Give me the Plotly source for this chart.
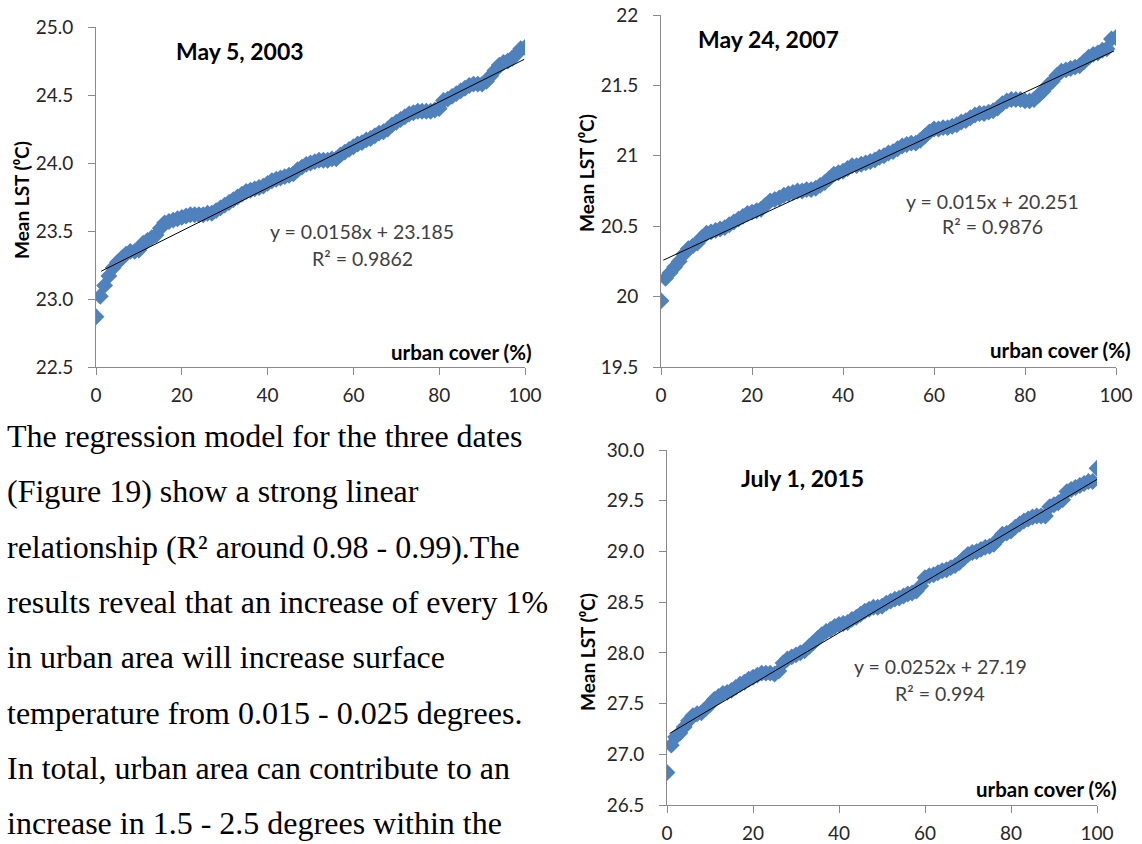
import plotly.graph_objects as go

# ---------------- data ----------------
urban_cover = list(range(0, 101))

lst_2003 = [22.87, 23.02, 23.10, 23.17, 23.23, 23.27, 23.30, 23.33, 23.35, 23.35,
            23.36, 23.41, 23.43, 23.45, 23.47, 23.52, 23.56, 23.57, 23.58, 23.59,
            23.60, 23.61, 23.62, 23.62, 23.62, 23.62, 23.63, 23.63, 23.65, 23.67,
            23.69, 23.71, 23.73, 23.75, 23.77, 23.79, 23.80, 23.81, 23.82, 23.83,
            23.85, 23.87, 23.88, 23.89, 23.90, 23.91, 23.92, 23.95, 23.97, 23.99,
            24.00, 24.01, 24.02, 24.02, 24.02, 24.03, 24.03, 24.06, 24.08, 24.10,
            24.12, 24.14, 24.15, 24.17, 24.18, 24.20, 24.22, 24.23, 24.25, 24.28,
            24.30, 24.32, 24.34, 24.36, 24.37, 24.38, 24.38, 24.38, 24.38, 24.39,
            24.40, 24.46, 24.47, 24.49, 24.51, 24.53, 24.55, 24.57, 24.58, 24.58,
            24.58, 24.60, 24.64, 24.68, 24.72, 24.74, 24.75, 24.77, 24.80, 24.84,
            24.85]

lst_2007 = [19.97, 20.13, 20.17, 20.21, 20.25, 20.30, 20.34, 20.36, 20.38, 20.42,
            20.45, 20.46, 20.47, 20.48, 20.49, 20.51, 20.53, 20.55, 20.57, 20.59,
            20.60, 20.61, 20.62, 20.65, 20.68, 20.69, 20.70, 20.72, 20.73, 20.74,
            20.75, 20.75, 20.76, 20.76, 20.77, 20.79, 20.81, 20.84, 20.87, 20.88,
            20.89, 20.91, 20.93, 20.93, 20.94, 20.95, 20.96, 20.97, 20.99, 21.00,
            21.02, 21.03, 21.05, 21.07, 21.08, 21.09, 21.09, 21.11, 21.14, 21.17,
            21.19, 21.19, 21.20, 21.20, 21.21, 21.22, 21.24, 21.25, 21.27, 21.29,
            21.30, 21.30, 21.31, 21.32, 21.34, 21.37, 21.39, 21.40, 21.40, 21.40,
            21.39, 21.39, 21.40, 21.43, 21.46, 21.50, 21.53, 21.57, 21.60, 21.61,
            21.62, 21.63, 21.64, 21.67, 21.70, 21.72, 21.73, 21.75, 21.76, 21.83,
            21.84]

lst_2015 = [26.82, 27.09, 27.17, 27.21, 27.27, 27.33, 27.38, 27.40, 27.41, 27.45,
            27.49, 27.54, 27.57, 27.60, 27.61, 27.63, 27.66, 27.69, 27.71, 27.74,
            27.76, 27.78, 27.80, 27.80, 27.80, 27.79, 27.82, 27.90, 27.94, 27.96,
            27.98, 28.00, 28.02, 28.06, 28.10, 28.14, 28.18, 28.21, 28.23, 28.26,
            28.28, 28.29, 28.30, 28.33, 28.35, 28.38, 28.41, 28.43, 28.45, 28.45,
            28.46, 28.49, 28.51, 28.53, 28.54, 28.56, 28.58, 28.59, 28.61, 28.66,
            28.74, 28.76, 28.77, 28.79, 28.81, 28.82, 28.84, 28.86, 28.89, 28.93,
            28.97, 28.99, 29.00, 29.02, 29.04, 29.05, 29.07, 29.12, 29.17, 29.18,
            29.20, 29.24, 29.27, 29.30, 29.32, 29.34, 29.35, 29.35, 29.35, 29.44,
            29.46, 29.48, 29.51, 29.59, 29.61, 29.63, 29.65, 29.67, 29.69, 29.69,
            29.82]

titles = ["May 5, 2003", "May 24, 2007", "July 1, 2015"]
slopes = [0.0158, 0.015, 0.0252]
intercepts = [23.185, 20.251, 27.19]
r_squared = ["0.9862", "0.9876", "0.994"]
equations = ["y = 0.0158x + 23.185", "y = 0.015x + 20.251", "y = 0.0252x + 27.19"]
trend_x_start = [1.2, 0.5, 0.6]
trend_x_end = [99.8, 99.6, 100]
y_ranges = [[22.5, 25.0], [19.5, 22.0], [26.5, 30.0]]
y_formats = [".1f", "", ".1f"]
x_ticks = [0, 20, 40, 60, 80, 100]
y_title = "Mean LST (\u2070C)"
x_title = "urban cover (%)"

paragraph_lines = [
    "The regression model for the three dates",
    "(Figure 19) show a strong linear",
    "relationship (R\u00b2 around 0.98 - 0.99).The",
    "results reveal that an increase of every 1%",
    "in urban area will increase surface",
    "temperature from 0.015 - 0.025 degrees.",
    "In total, urban area can contribute to an",
    "increase in 1.5 - 2.5 degrees within the",
]

# ---------------- layout helpers ----------------
W, H = 1142, 844
def fx(p):
    return p / W
def fy(p):
    return 1 - p / H

# plot boxes in pixels: (left, right, top, bottom)
boxes = [(96, 525, 27, 367), (661, 1116, 15, 367), (667, 1097, 450, 805)]
title_pos = [(240, 51), (768, 39), (802, 478)]
eq_pos = [(362, 231, 258), (992, 202, 227), (940, 666, 693)]
ytitle_pos = [(21, 200), (586, 173), (587, 652)]
xlabel_pos = [(534, 352), (1133, 350), (1119, 789)]

series = [lst_2003, lst_2007, lst_2015]

BLUE = "#4F81BD"
AXIS = "#898989"
TXT = "#262626"
FONT = "Lato"

fig = go.Figure()
annotations = []

for i in range(3):
    sfx = "" if i == 0 else str(i + 1)
    fig.add_trace(go.Scatter(
        x=urban_cover, y=series[i], mode="markers",
        marker=dict(symbol="diamond", size=13, color=BLUE, line=dict(width=0)),
        xaxis="x" + sfx, yaxis="y" + sfx, showlegend=False, hoverinfo="x+y"))
    tx = [trend_x_start[i], trend_x_end[i]]
    ty = [slopes[i] * v + intercepts[i] for v in tx]
    fig.add_trace(go.Scatter(
        x=tx, y=ty, mode="lines", line=dict(color="black", width=1),
        xaxis="x" + sfx, yaxis="y" + sfx, showlegend=False, hoverinfo="skip"))

    l, r, t, b = boxes[i]
    axis_common = dict(showgrid=False, zeroline=False, showline=True,
                       linecolor=AXIS, linewidth=1, ticks="outside",
                       ticklen=7, tickcolor=AXIS, automargin=False,
                       tickfont=dict(family=FONT, size=19, color=TXT))
    fig.update_layout(**{
        "xaxis" + sfx: dict(domain=[fx(l), fx(r)], range=[0, 100],
                            tickvals=x_ticks, anchor="y" + sfx,
                            ticklabelstandoff=4, **axis_common),
        "yaxis" + sfx: dict(domain=[fy(b), fy(t)], range=y_ranges[i],
                            dtick=0.5, tick0=y_ranges[i][0],
                            tickformat=y_formats[i], anchor="x" + sfx,
                            ticklabelstandoff=11, **axis_common),
    })

    annotations.append(dict(x=fx(title_pos[i][0]), y=fy(title_pos[i][1]),
                            text="<b>" + titles[i] + "</b>",
                            font=dict(family=FONT, size=23, color="black")))
    ex, ey1, ey2 = eq_pos[i]
    annotations.append(dict(x=fx(ex), y=fy(ey1), text=equations[i],
                            font=dict(family=FONT, size=19.5, color="#404040")))
    annotations.append(dict(x=fx(ex), y=fy(ey2),
                            text="R\u00b2 = " + r_squared[i],
                            font=dict(family=FONT, size=19.5, color="#404040")))
    annotations.append(dict(x=fx(ytitle_pos[i][0]), y=fy(ytitle_pos[i][1]),
                            text="<b>" + y_title + "</b>", textangle=-90,
                            font=dict(family=FONT, size=19, color="black")))
    annotations.append(dict(x=fx(xlabel_pos[i][0]), y=fy(xlabel_pos[i][1]),
                            xanchor="right",
                            text="<b>" + x_title + "</b>",
                            font=dict(family=FONT, size=20.5, color="black")))

line_y0, line_step = 436, 55.3
for k, line in enumerate(paragraph_lines):
    annotations.append(dict(x=fx(5), y=fy(line_y0 + k * line_step), xanchor="left",
                            text=line,
                            font=dict(family="Liberation Serif", size=32, color="black")))

for a in annotations:
    a.setdefault("xref", "paper")
    a.setdefault("yref", "paper")
    a.setdefault("showarrow", False)
    a.setdefault("yanchor", "middle")
    a.setdefault("xanchor", "center")

fig.update_layout(width=W, height=H, margin=dict(l=0, r=0, t=0, b=0, autoexpand=False),
                  paper_bgcolor="white", plot_bgcolor="white",
                  showlegend=False, annotations=annotations)

fig.write_html("out.html")
